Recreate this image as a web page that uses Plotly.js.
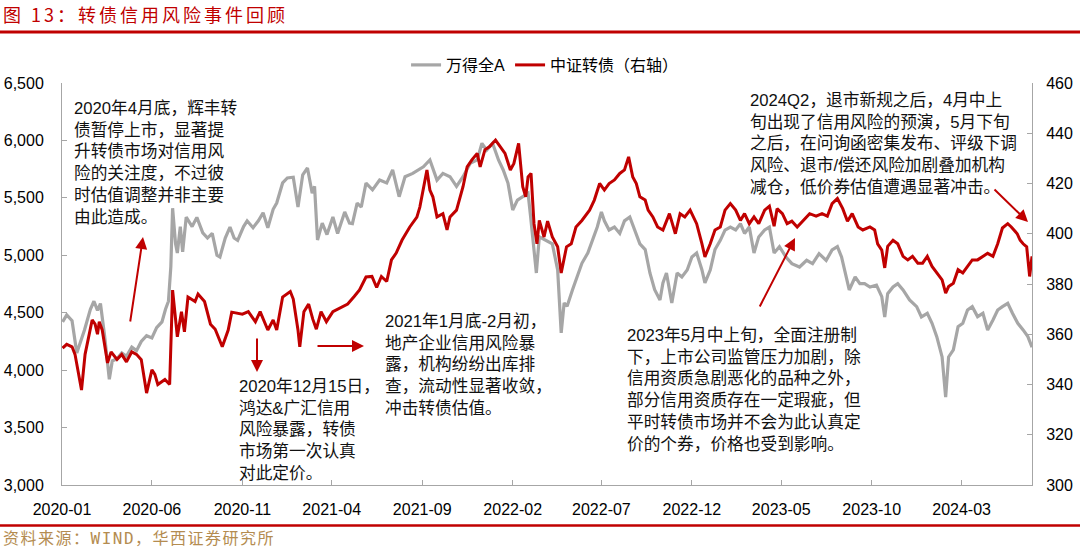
<!DOCTYPE html>
<html><head><meta charset="utf-8">
<script src="https://cdn.plot.ly/plotly-3.0.1.min.js"></script>
<style>html,body{margin:0;padding:0;background:#fff}#chart{width:1080px;height:550px}</style>
</head><body><div id="chart"></div>
<script>
// ---- data: Wind All A index (left axis) ----
const wDates = ["2020-01-02","2020-01-09","2020-01-18","2020-01-26","2020-02-08","2020-02-18","2020-02-24","2020-03-01","2020-03-06","2020-03-13","2020-03-21","2020-03-26","2020-04-03","2020-04-11","2020-04-19","2020-04-28","2020-05-06","2020-05-14","2020-05-23","2020-06-01","2020-06-09","2020-06-18","2020-06-24","2020-06-29","2020-07-03","2020-07-06","2020-07-11","2020-07-14","2020-07-19","2020-07-23","2020-07-29","2020-08-08","2020-08-16","2020-08-26","2020-09-03","2020-09-11","2020-09-19","2020-09-24","2020-10-03","2020-10-11","2020-10-18","2020-10-24","2020-11-03","2020-11-09","2020-11-19","2020-11-28","2020-12-06","2020-12-14","2020-12-23","2020-12-29","2021-01-08","2021-01-16","2021-01-26","2021-02-03","2021-02-11","2021-02-19","2021-02-27","2021-03-03","2021-03-08","2021-03-16","2021-03-24","2021-04-03","2021-04-11","2021-04-23","2021-05-01","2021-05-06","2021-05-14","2021-05-21","2021-05-29","2021-06-09","2021-06-21","2021-07-03","2021-07-13","2021-07-24","2021-08-03","2021-08-16","2021-09-03","2021-09-14","2021-09-26","2021-10-06","2021-10-18","2021-10-29","2021-11-09","2021-11-21","2021-12-03","2021-12-11","2021-12-19","2021-12-29","2022-01-08","2022-01-16","2022-01-24","2022-02-01","2022-02-09","2022-02-19","2022-02-27","2022-03-03","2022-03-13","2022-03-18","2022-03-29","2022-04-09","2022-04-18","2022-04-24","2022-04-29","2022-05-04","2022-05-13","2022-05-21","2022-05-29","2022-06-08","2022-06-16","2022-06-24","2022-07-01","2022-07-06","2022-07-14","2022-07-23","2022-08-01","2022-08-09","2022-08-18","2022-08-26","2022-09-04","2022-09-13","2022-09-21","2022-09-29","2022-10-08","2022-10-13","2022-10-19","2022-10-28","2022-11-06","2022-11-14","2022-11-23","2022-12-01","2022-12-09","2022-12-18","2022-12-23","2023-01-01","2023-01-09","2023-01-18","2023-01-26","2023-02-04","2023-02-13","2023-02-21","2023-02-28","2023-03-08","2023-03-16","2023-03-24","2023-04-03","2023-04-11","2023-04-19","2023-04-28","2023-05-09","2023-05-19","2023-06-01","2023-06-13","2023-06-23","2023-07-04","2023-07-16","2023-07-26","2023-08-04","2023-08-11","2023-08-16","2023-08-24","2023-09-03","2023-09-11","2023-09-19","2023-09-28","2023-10-09","2023-10-18","2023-10-23","2023-10-28","2023-11-06","2023-11-14","2023-11-23","2023-12-04","2023-12-16","2023-12-24","2024-01-03","2024-01-11","2024-01-19","2024-01-28","2024-02-03","2024-02-08","2024-02-16","2024-02-24","2024-03-03","2024-03-11","2024-03-19","2024-03-28","2024-04-06","2024-04-14","2024-04-23","2024-05-01","2024-05-09","2024-05-18","2024-05-26","2024-06-04","2024-06-13","2024-06-21","2024-06-28"];
const wClose = [4420,4480,4430,4150,4350,4530,4600,4520,4580,4300,3920,4080,4100,4150,4120,4200,4170,4250,4300,4280,4370,4420,4530,4600,4900,5410,5100,5020,5250,5030,5333,5250,5330,5195,5150,5190,5000,4985,5150,5246,5150,5130,5250,5300,5240,5300,5370,5240,5400,5455,5630,5673,5680,5420,5700,5760,5540,5600,5133,5280,5180,5333,5190,5377,5280,5275,5455,5420,5629,5570,5655,5629,5743,5510,5684,5713,5770,5830,5655,5713,5684,5600,5684,5800,5830,5975,5916,5975,5830,5743,5629,5394,5480,5510,5540,5350,4846,5160,5130,5100,4872,4324,4585,4556,4698,4811,4930,5020,5130,5246,5377,5300,5220,5246,5190,5300,5333,5220,5100,5050,4846,4700,4611,4759,4846,4585,4846,4811,4872,4985,5020,4872,4759,4872,5050,5130,5220,5246,5220,5275,5190,5246,5020,5160,5220,5246,5020,5075,4985,4927,4898,4956,4927,5014,4956,5046,5075,4985,4869,4698,4811,4753,4753,4724,4740,4640,4463,4666,4724,4753,4698,4611,4553,4463,4495,4408,4292,4115,3766,4115,4176,4379,4408,4524,4553,4466,4495,4350,4437,4524,4553,4582,4495,4408,4350,4292,4200];

// ---- data: CSI convertible bond index (right axis) ----
const cbDates = ["2020-01-02","2020-01-09","2020-01-18","2020-01-23","2020-02-03","2020-02-09","2020-02-21","2020-02-26","2020-03-01","2020-03-04","2020-03-09","2020-03-18","2020-03-24","2020-04-03","2020-04-11","2020-04-19","2020-04-28","2020-05-06","2020-05-14","2020-05-23","2020-06-01","2020-06-06","2020-06-11","2020-06-23","2020-07-01","2020-07-06","2020-07-14","2020-07-21","2020-07-26","2020-08-01","2020-08-13","2020-08-18","2020-08-29","2020-09-08","2020-09-16","2020-09-28","2020-10-08","2020-10-14","2020-11-01","2020-11-11","2020-11-23","2020-12-01","2020-12-14","2020-12-23","2020-12-29","2021-01-08","2021-01-21","2021-01-26","2021-02-03","2021-02-06","2021-02-13","2021-02-21","2021-02-28","2021-03-06","2021-03-14","2021-03-23","2021-04-03","2021-04-18","2021-04-28","2021-05-09","2021-05-18","2021-05-29","2021-06-08","2021-06-16","2021-06-24","2021-07-03","2021-07-11","2021-07-19","2021-07-29","2021-08-11","2021-08-23","2021-08-28","2021-09-06","2021-09-09","2021-09-14","2021-09-19","2021-09-26","2021-10-06","2021-10-13","2021-10-18","2021-10-29","2021-11-04","2021-11-09","2021-11-16","2021-11-24","2021-12-03","2021-12-08","2021-12-16","2021-12-24","2022-01-03","2022-01-11","2022-01-19","2022-01-28","2022-02-03","2022-02-11","2022-02-18","2022-02-23","2022-02-27","2022-03-04","2022-03-09","2022-03-14","2022-03-18","2022-03-26","2022-04-01","2022-04-09","2022-04-18","2022-04-24","2022-05-03","2022-05-11","2022-05-19","2022-05-29","2022-06-11","2022-06-19","2022-06-28","2022-07-06","2022-07-14","2022-07-23","2022-08-01","2022-08-09","2022-08-16","2022-08-23","2022-08-29","2022-09-04","2022-09-13","2022-09-18","2022-09-26","2022-10-04","2022-10-13","2022-10-24","2022-11-03","2022-11-11","2022-11-19","2022-11-28","2022-12-09","2022-12-18","2022-12-23","2023-01-01","2023-01-09","2023-01-18","2023-01-26","2023-02-04","2023-02-13","2023-02-21","2023-02-28","2023-03-08","2023-03-16","2023-03-24","2023-04-03","2023-04-11","2023-04-19","2023-04-24","2023-05-03","2023-05-11","2023-05-19","2023-05-28","2023-06-06","2023-06-18","2023-06-29","2023-07-09","2023-07-18","2023-07-26","2023-08-04","2023-08-13","2023-08-21","2023-08-29","2023-09-08","2023-09-16","2023-09-28","2023-10-06","2023-10-11","2023-10-18","2023-10-23","2023-10-28","2023-11-06","2023-11-14","2023-11-23","2023-12-01","2023-12-09","2023-12-18","2023-12-26","2024-01-03","2024-01-11","2024-01-19","2024-01-28","2024-02-03","2024-02-08","2024-02-16","2024-02-24","2024-03-03","2024-03-11","2024-03-19","2024-03-28","2024-04-06","2024-04-14","2024-04-23","2024-05-01","2024-05-09","2024-05-18","2024-05-24","2024-06-03","2024-06-08","2024-06-13","2024-06-19","2024-06-22","2024-06-24","2024-06-28"];
const cbClose = [354.5,356,355,352,337.8,352,365.7,364,360,365,361.7,348.6,353,350,352,349,353,352,349.9,336.6,345.8,344,340,342,340,377.6,359,369,361,374.8,373,376,373,364,362,355,361.7,368.8,368,369,365,369,361.7,365.7,361.7,374.8,377,374,361.7,355,369,372,366,362,369,365,369,371,372,375,377.6,382.8,383,378.6,383,381,389.6,392.3,397.5,402.7,406.6,410.6,422.6,425.4,417.4,414.7,406.7,408,401.5,406.7,409.4,414.7,418.7,426.6,429.4,432,426.6,433.4,434.7,437.3,434.7,432,425.4,428,436,418.7,414.7,422.6,424,404,396,405.3,398.7,405,398.7,394.8,384.4,394.8,396,402.7,405.3,409.4,413.4,420,417.4,420,421.4,424,425.4,430.6,422.6,420,414.7,413.4,409.4,406.7,402.7,401.5,408,400,408,406.7,409.4,404,396,390.8,396,401.5,402.7,409.4,412,409.4,405.3,408,404,406.7,404,409.4,411,403,410,408,404,405,402.7,405,408,407,408,407,412,414,410,405,408,402.7,401.5,402.7,401.5,396,393.5,386.4,395,397.4,396,391,389.6,391,388.3,388.3,391,387,384.4,381.6,376.4,379,380.3,385.7,384.4,387,389.6,389.6,391,392.2,391,396,402.3,404,402.7,400,397.4,396,394.8,388,383,391];

const seriesNames = ["万得全A", "中证转债（右轴）"];
const xTickFormat = "%Y-%m";

const notes = [
  "2020年4月底，辉丰转<br>债暂停上市，显著提<br>升转债市场对信用风<br>险的关注度，不过彼<br>时估值调整并非主要<br>由此造成。",
  "2020年12月15日，<br>鸿达&amp;广汇信用<br>风险暴露，转债<br>市场第一次认真<br>对此定价。",
  "2021年1月底-2月初，<br>地产企业信用风险暴<br>露，机构纷纷出库排<br>查，流动性显著收敛，<br>冲击转债估值。",
  "2023年5月中上旬，全面注册制<br>下，上市公司监管压力加剧，除<br>信用资质急剧恶化的品种之外，<br>部分信用资质存在一定瑕疵，但<br>平时转债市场并不会为此认真定<br>价的个券，价格也受到影响。",
  "2024Q2，退市新规之后，4月中上<br>旬出现了信用风险的预演，5月下旬<br>之后，在问询函密集发布、评级下调<br>风险、退市/偿还风险加剧叠加机构<br>减仓，低价券估值遭遇显著冲击。"
];
const titleText = "图 13：转债信用风险事件回顾";
const sourceText = "资料来源：WIND，华西证券研究所";

// ---- layout helpers (pixel -> paper) ----
const PL = 62, PR = 1032, PT = 83, PB = 485;
const px = v => (v - PL) / (PR - PL);
const py = v => (PB - v) / (PB - PT);

const RED = "#C00000", GRAY = "#A6A6A6", AXIS = "#A6A6A6";
const tickFont = {family: "Liberation Sans, Arial, sans-serif", size: 16, color: "#000"};
const noteFont = {family: "Liberation Sans, Noto Sans CJK SC, sans-serif", size: 16.7, color: "#111"};

const traces = [
  {x: wDates, y: wClose, name: seriesNames[0], type: "scatter", mode: "lines",
   line: {color: GRAY, width: 3.2}, yaxis: "y", hoverinfo: "skip"},
  {x: cbDates, y: cbClose, name: seriesNames[1], type: "scatter", mode: "lines",
   line: {color: RED, width: 3}, yaxis: "y2", hoverinfo: "skip"}
];

function note(i, xp, yc) {
  return {text: notes[i], xref: "paper", yref: "paper", x: px(xp), y: py(yc),
    xanchor: "left", yanchor: "middle", align: "left", showarrow: false, font: noteFont};
}
function arrow(hx, hy, tx, ty) {
  return {text: "", xref: "paper", yref: "paper", x: px(hx), y: py(hy),
    axref: "pixel", ayref: "pixel", ax: tx - hx, ay: ty - hy, showarrow: true,
    arrowhead: 2, arrowsize: 1.2, arrowwidth: 2, arrowcolor: RED, standoff: 0, startstandoff: 0};
}

const layout = {
  width: 1080, height: 550,
  margin: {l: PL, r: 1080 - PR, t: PT, b: 550 - PB, pad: 0},
  paper_bgcolor: "#fff", plot_bgcolor: "#fff",
  showlegend: true,
  legend: {orientation: "h", x: 0.498, xanchor: "center", y: py(65), yanchor: "middle",
    font: {family: "Liberation Sans, Noto Sans CJK SC, sans-serif", size: 16, color: "#000"},
    bgcolor: "rgba(0,0,0,0)", itemclick: false},
  xaxis: {type: "date", range: ["2020-01-01", "2024-06-28"], tick0: "2020-01-01", dtick: "M5",
    tickformat: xTickFormat, ticks: "inside", ticklen: 5, tickcolor: AXIS, tickwidth: 1,
    showline: true, linecolor: AXIS, linewidth: 1, showgrid: false, zeroline: false,
    tickfont: tickFont, ticklabelstandoff: 10, automargin: false, fixedrange: true},
  yaxis: {range: [3000, 6500], tick0: 3000, dtick: 500, tickformat: ",d",
    ticks: "inside", ticklen: 5, tickcolor: AXIS, showline: true, linecolor: AXIS, linewidth: 1,
    showgrid: false, zeroline: false, tickfont: tickFont, ticklabelstandoff: 14,
    automargin: false, fixedrange: true},
  yaxis2: {range: [300, 460], tick0: 300, dtick: 20, overlaying: "y", side: "right",
    ticks: "inside", ticklen: 5, tickcolor: AXIS, showline: true, linecolor: AXIS, linewidth: 1,
    showgrid: false, zeroline: false, tickfont: tickFont, ticklabelstandoff: 10,
    automargin: false, fixedrange: true},
  shapes: [
    {type: "line", xref: "paper", yref: "paper", x0: px(0), x1: px(1080), y0: py(32), y1: py(32),
     line: {color: RED, width: 3}},
    {type: "line", xref: "paper", yref: "paper", x0: px(0), x1: px(1080), y0: py(525.5), y1: py(525.5),
     line: {color: RED, width: 2.5}}
  ],
  annotations: [
    {text: titleText, xref: "paper", yref: "paper", x: px(3), y: py(13.5), xanchor: "left", yanchor: "middle",
     borderpad: 0, borderwidth: 0,
     showarrow: false, font: {family: "Noto Sans CJK SC, sans-serif", size: 18, color: RED}},
    {text: sourceText, xref: "paper", yref: "paper", x: px(3), y: py(538), xanchor: "left", yanchor: "middle",
     borderpad: 0, borderwidth: 0,
     showarrow: false, font: {family: "DejaVu Sans Mono, Noto Sans CJK SC, sans-serif", size: 16, color: "#B48C50"}},
    note(0, 72, 163),
    note(1, 237, 430),
    note(2, 383, 364.5),
    note(3, 625, 390),
    note(4, 748, 143.5),
    arrow(143, 237, 130, 323),
    arrow(257, 372, 257, 337),
    arrow(364, 346, 316, 346),
    arrow(795, 238, 759, 308),
    arrow(1028, 222, 993, 188)
  ]
};

Plotly.newPlot("chart", traces, layout, {staticPlot: true, displayModeBar: false}).then(function () {
  // widen the character spacing of the title and source lines (as in the reference),
  // keeping their left edge where Plotly put it, and widen their boxes to match
  const spacing = {0: 3, 1: 1.5};
  Object.keys(spacing).forEach(function (k) {
    const g = document.querySelector('.annotation[data-index="' + k + '"]');
    const t = g && g.querySelector("text.annotation-text");
    if (!t) return;
    const b0 = t.getBBox();
    t.style.letterSpacing = spacing[k] + "px";
    const b1 = t.getBBox();
    const dx = b0.x - b1.x;
    [t].concat(Array.from(t.querySelectorAll("tspan[x]"))).forEach(function (el) {
      const xv = parseFloat(el.getAttribute("x"));
      if (!isNaN(xv)) el.setAttribute("x", xv + dx);
    });
    const bg = g.querySelector("rect.bg");
    if (bg) bg.setAttribute("width", parseFloat(bg.getAttribute("width") || 0) + (b1.width - b0.width));
  });
});
</script></body></html>
